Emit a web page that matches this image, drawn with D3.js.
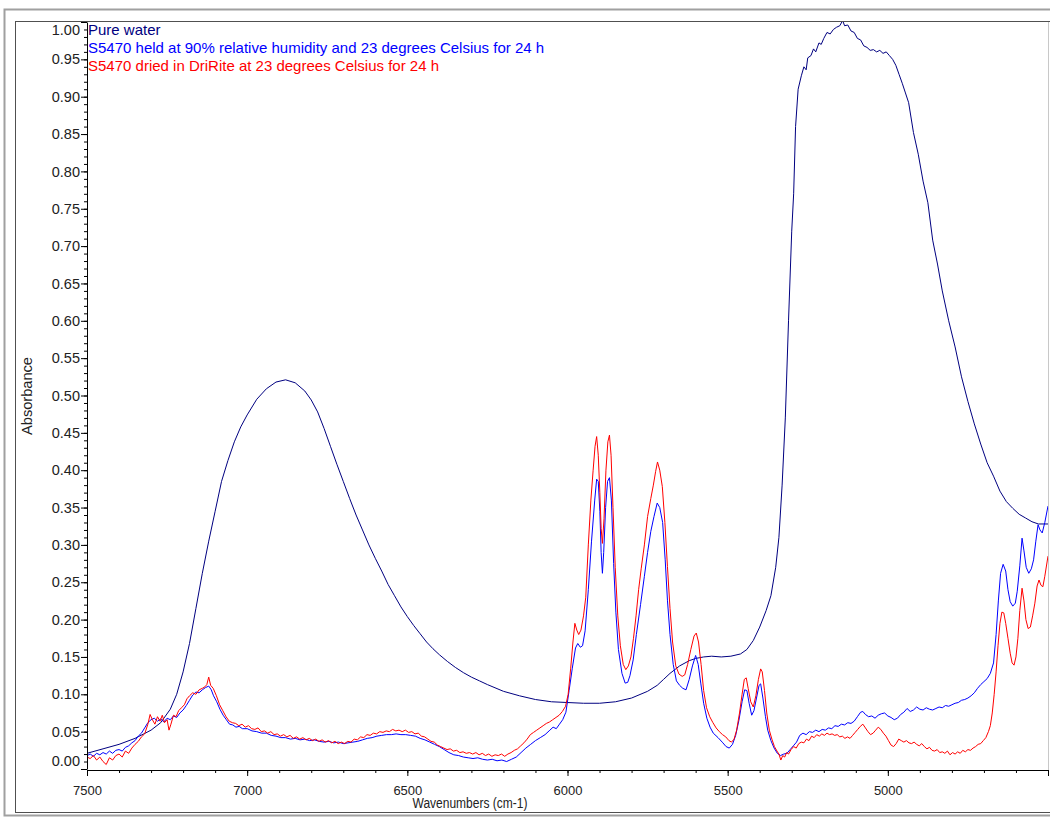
<!DOCTYPE html>
<html>
<head>
<meta charset="utf-8">
<script src="https://cdn.jsdelivr.net/npm/d3@7"></script>
<style>
  body { margin: 0; background: #fff; }
  svg { display: block; font-family: "Liberation Sans", Arial, sans-serif; }
</style>
</head>
<body>
<script>
// series: [wavenumber cm-1, absorbance]
const pureWater = [
  [7500, 0.021], [7450, 0.027], [7400, 0.033], [7350, 0.041], [7300, 0.052], [7270, 0.062],
  [7240, 0.080], [7220, 0.100], [7200, 0.130], [7180, 0.168], [7160, 0.215], [7140, 0.262],
  [7120, 0.305], [7100, 0.345], [7080, 0.385], [7060, 0.413], [7040, 0.438], [7020, 0.458],
  [7000, 0.474], [6970, 0.495], [6940, 0.509], [6910, 0.518], [6880, 0.521], [6850, 0.517],
  [6820, 0.506], [6800, 0.494], [6780, 0.478], [6760, 0.456], [6740, 0.432], [6720, 0.408],
  [6700, 0.385], [6680, 0.362], [6660, 0.340], [6640, 0.320], [6620, 0.300], [6600, 0.282],
  [6580, 0.265], [6560, 0.247], [6540, 0.232], [6520, 0.217], [6500, 0.204], [6480, 0.192],
  [6460, 0.181], [6440, 0.170], [6420, 0.161], [6400, 0.153], [6375, 0.144], [6350, 0.136],
  [6325, 0.129], [6300, 0.123], [6275, 0.118], [6250, 0.113], [6200, 0.104], [6150, 0.098],
  [6100, 0.093], [6050, 0.090], [6000, 0.089], [5950, 0.088], [5900, 0.088], [5850, 0.090],
  [5800, 0.095], [5750, 0.104], [5720, 0.112], [5700, 0.120], [5680, 0.128], [5650, 0.138],
  [5620, 0.145], [5600, 0.148], [5575, 0.150], [5550, 0.151], [5520, 0.150], [5490, 0.151],
  [5460, 0.154], [5440, 0.160], [5420, 0.172], [5400, 0.190], [5380, 0.212], [5365, 0.232],
  [5350, 0.270], [5340, 0.310], [5330, 0.380], [5320, 0.470], [5310, 0.600], [5300, 0.720],
  [5294, 0.770], [5288, 0.860], [5280, 0.910], [5270, 0.928], [5262, 0.940], [5255, 0.936],
  [5250, 0.952], [5240, 0.955], [5232, 0.964], [5225, 0.960], [5215, 0.972], [5208, 0.970],
  [5200, 0.978], [5190, 0.986], [5180, 0.984], [5170, 0.990], [5160, 0.993], [5150, 0.995],
  [5141, 1.002], [5135, 0.995], [5125, 0.996], [5115, 0.988], [5105, 0.986], [5095, 0.978],
  [5085, 0.976], [5075, 0.968], [5065, 0.966], [5055, 0.962], [5045, 0.963], [5035, 0.960],
  [5025, 0.962], [5015, 0.958], [5005, 0.960], [4995, 0.955], [4985, 0.950], [4975, 0.942],
  [4965, 0.930], [4955, 0.918], [4945, 0.905], [4935, 0.892], [4920, 0.852], [4905, 0.823],
  [4890, 0.787], [4875, 0.758], [4860, 0.708], [4845, 0.676], [4830, 0.640], [4810, 0.600],
  [4790, 0.565], [4770, 0.525], [4750, 0.492], [4730, 0.462], [4710, 0.435], [4690, 0.410],
  [4670, 0.392], [4650, 0.372], [4630, 0.358], [4610, 0.349], [4590, 0.341], [4570, 0.336],
  [4550, 0.331], [4530, 0.328], [4510, 0.328], [4500, 0.328]
];

const humid = [
  [7500, 0.018], [7490, 0.020], [7480, 0.017], [7470, 0.021], [7460, 0.019], [7450, 0.022],
  [7440, 0.020], [7430, 0.024], [7420, 0.021], [7410, 0.025], [7400, 0.026], [7390, 0.024],
  [7380, 0.029], [7370, 0.031], [7360, 0.035], [7350, 0.038], [7340, 0.044], [7330, 0.048],
  [7320, 0.055], [7310, 0.062], [7300, 0.066], [7290, 0.068], [7280, 0.064], [7270, 0.067],
  [7260, 0.063], [7250, 0.068], [7240, 0.066], [7230, 0.071], [7220, 0.069], [7210, 0.075],
  [7200, 0.079], [7190, 0.085], [7180, 0.092], [7170, 0.099], [7160, 0.103], [7150, 0.102],
  [7140, 0.106], [7130, 0.109], [7120, 0.111], [7112, 0.106], [7105, 0.098], [7095, 0.090],
  [7085, 0.080], [7075, 0.072], [7065, 0.066], [7055, 0.060], [7045, 0.059], [7035, 0.056],
  [7025, 0.057], [7015, 0.054], [7000, 0.054], [6985, 0.051], [6970, 0.050], [6955, 0.048],
  [6940, 0.048], [6925, 0.045], [6910, 0.044], [6895, 0.042], [6880, 0.042], [6865, 0.040],
  [6850, 0.041], [6835, 0.039], [6820, 0.040], [6805, 0.038], [6790, 0.039], [6775, 0.037],
  [6760, 0.036], [6745, 0.037], [6730, 0.035], [6715, 0.036], [6700, 0.034], [6685, 0.035],
  [6670, 0.036], [6655, 0.037], [6640, 0.039], [6625, 0.041], [6610, 0.042], [6595, 0.044],
  [6580, 0.045], [6565, 0.046], [6550, 0.046], [6535, 0.047], [6520, 0.046], [6505, 0.046],
  [6490, 0.045], [6475, 0.044], [6460, 0.041], [6445, 0.039], [6430, 0.036], [6415, 0.033],
  [6400, 0.030], [6385, 0.026], [6370, 0.022], [6355, 0.019], [6340, 0.018], [6325, 0.016],
  [6310, 0.015], [6295, 0.014], [6280, 0.015], [6265, 0.013], [6250, 0.012], [6235, 0.013],
  [6220, 0.011], [6205, 0.012], [6190, 0.010], [6175, 0.013], [6160, 0.016], [6145, 0.022],
  [6130, 0.028], [6115, 0.033], [6100, 0.038], [6085, 0.042], [6070, 0.046], [6055, 0.052],
  [6045, 0.056], [6035, 0.054], [6025, 0.060], [6015, 0.066], [6005, 0.076], [5995, 0.105],
  [5985, 0.135], [5975, 0.162], [5968, 0.168], [5960, 0.163], [5953, 0.165], [5945, 0.185],
  [5935, 0.240], [5925, 0.305], [5915, 0.360], [5909, 0.388], [5904, 0.385], [5899, 0.345],
  [5895, 0.290], [5891, 0.262], [5887, 0.290], [5881, 0.350], [5875, 0.385], [5869, 0.390],
  [5863, 0.360], [5856, 0.275], [5849, 0.210], [5841, 0.160], [5830, 0.128], [5820, 0.115],
  [5812, 0.116], [5805, 0.125], [5795, 0.146], [5785, 0.180], [5772, 0.220], [5760, 0.258],
  [5750, 0.290], [5740, 0.318], [5730, 0.338], [5720, 0.356], [5712, 0.350], [5703, 0.330],
  [5695, 0.280], [5688, 0.226], [5680, 0.180], [5670, 0.140], [5660, 0.118], [5650, 0.112],
  [5640, 0.108], [5630, 0.106], [5620, 0.120], [5610, 0.138], [5600, 0.152], [5592, 0.140],
  [5584, 0.115], [5575, 0.088], [5565, 0.068], [5555, 0.056], [5545, 0.048], [5530, 0.042],
  [5515, 0.035], [5505, 0.030], [5495, 0.028], [5485, 0.033], [5475, 0.045], [5465, 0.065],
  [5455, 0.090], [5447, 0.106], [5440, 0.105], [5433, 0.088], [5425, 0.072], [5418, 0.078],
  [5410, 0.095], [5402, 0.112], [5397, 0.114], [5390, 0.095], [5382, 0.070], [5375, 0.052],
  [5365, 0.038], [5355, 0.028], [5345, 0.021], [5335, 0.018], [5325, 0.020], [5315, 0.021],
  [5305, 0.026], [5295, 0.031], [5285, 0.036], [5275, 0.045], [5265, 0.048], [5255, 0.046],
  [5245, 0.050], [5235, 0.049], [5225, 0.052], [5215, 0.050], [5205, 0.053], [5195, 0.052],
  [5185, 0.055], [5175, 0.054], [5165, 0.058], [5155, 0.057], [5145, 0.060], [5135, 0.059],
  [5125, 0.062], [5115, 0.061], [5105, 0.064], [5095, 0.070], [5085, 0.076], [5078, 0.077],
  [5070, 0.073], [5060, 0.070], [5050, 0.071], [5040, 0.068], [5030, 0.072], [5020, 0.074],
  [5010, 0.075], [5000, 0.071], [4990, 0.069], [4980, 0.066], [4970, 0.068], [4960, 0.073],
  [4950, 0.076], [4940, 0.081], [4930, 0.077], [4920, 0.079], [4910, 0.083], [4900, 0.080],
  [4890, 0.079], [4880, 0.082], [4870, 0.080], [4860, 0.079], [4850, 0.081], [4840, 0.083],
  [4830, 0.082], [4820, 0.085], [4810, 0.084], [4800, 0.086], [4790, 0.088], [4780, 0.089],
  [4770, 0.092], [4760, 0.093], [4750, 0.095], [4740, 0.098], [4730, 0.102], [4720, 0.108],
  [4710, 0.113], [4700, 0.117], [4690, 0.121], [4680, 0.128], [4670, 0.142], [4662, 0.180],
  [4655, 0.225], [4648, 0.262], [4640, 0.274], [4632, 0.265], [4625, 0.240], [4618, 0.224],
  [4610, 0.218], [4602, 0.222], [4596, 0.238], [4588, 0.272], [4581, 0.309], [4575, 0.292],
  [4568, 0.270], [4560, 0.262], [4552, 0.268], [4545, 0.280], [4538, 0.305], [4531, 0.327],
  [4525, 0.320], [4518, 0.316], [4510, 0.330], [4500, 0.352]
];

const dried = [
  [7500, 0.016], [7490, 0.014], [7480, 0.018], [7470, 0.012], [7460, 0.016], [7450, 0.010],
  [7440, 0.006], [7430, 0.015], [7420, 0.012], [7410, 0.018], [7400, 0.020], [7390, 0.016],
  [7380, 0.024], [7370, 0.021], [7360, 0.028], [7350, 0.033], [7340, 0.037], [7330, 0.043],
  [7320, 0.047], [7310, 0.060], [7303, 0.073], [7296, 0.066], [7288, 0.060], [7280, 0.070],
  [7272, 0.064], [7265, 0.072], [7258, 0.062], [7250, 0.066], [7244, 0.052], [7238, 0.060],
  [7230, 0.072], [7222, 0.070], [7214, 0.078], [7205, 0.082], [7196, 0.086], [7188, 0.094],
  [7180, 0.098], [7170, 0.102], [7160, 0.100], [7150, 0.106], [7140, 0.108], [7132, 0.110],
  [7126, 0.113], [7120, 0.123], [7114, 0.112], [7106, 0.108], [7096, 0.098], [7086, 0.086],
  [7076, 0.078], [7066, 0.070], [7056, 0.064], [7046, 0.062], [7036, 0.061], [7026, 0.058],
  [7016, 0.060], [7006, 0.056], [6996, 0.058], [6986, 0.054], [6976, 0.053], [6966, 0.055],
  [6956, 0.050], [6946, 0.051], [6936, 0.048], [6926, 0.050], [6916, 0.046], [6906, 0.047],
  [6896, 0.044], [6886, 0.046], [6876, 0.043], [6866, 0.045], [6856, 0.041], [6846, 0.043],
  [6836, 0.040], [6826, 0.042], [6816, 0.039], [6806, 0.041], [6796, 0.038], [6786, 0.040],
  [6776, 0.037], [6766, 0.039], [6756, 0.036], [6746, 0.038], [6736, 0.035], [6726, 0.037],
  [6716, 0.034], [6706, 0.036], [6696, 0.034], [6686, 0.037], [6676, 0.036], [6666, 0.040],
  [6656, 0.039], [6646, 0.043], [6636, 0.042], [6626, 0.046], [6616, 0.045], [6606, 0.048],
  [6596, 0.047], [6586, 0.050], [6576, 0.049], [6566, 0.051], [6556, 0.050], [6546, 0.053],
  [6536, 0.051], [6526, 0.052], [6516, 0.050], [6506, 0.052], [6496, 0.049], [6486, 0.050],
  [6476, 0.047], [6466, 0.048], [6456, 0.044], [6446, 0.043], [6436, 0.040], [6426, 0.037],
  [6416, 0.036], [6406, 0.032], [6396, 0.030], [6386, 0.028], [6376, 0.026], [6366, 0.027],
  [6356, 0.024], [6346, 0.025], [6336, 0.022], [6326, 0.023], [6316, 0.021], [6306, 0.022],
  [6296, 0.020], [6286, 0.022], [6276, 0.019], [6266, 0.021], [6256, 0.018], [6246, 0.020],
  [6236, 0.017], [6226, 0.019], [6216, 0.018], [6206, 0.020], [6196, 0.017], [6186, 0.020],
  [6176, 0.022], [6166, 0.025], [6156, 0.027], [6146, 0.031], [6136, 0.035], [6126, 0.040],
  [6116, 0.046], [6106, 0.049], [6096, 0.052], [6086, 0.055], [6076, 0.058], [6066, 0.061],
  [6056, 0.063], [6046, 0.066], [6036, 0.069], [6026, 0.072], [6016, 0.077], [6006, 0.084],
  [5998, 0.100], [5990, 0.135], [5983, 0.170], [5977, 0.195], [5971, 0.186], [5965, 0.180],
  [5958, 0.186], [5950, 0.205], [5943, 0.230], [5935, 0.300], [5927, 0.360], [5920, 0.400],
  [5914, 0.432], [5909, 0.445], [5904, 0.420], [5899, 0.370], [5895, 0.322], [5891, 0.302],
  [5886, 0.335], [5880, 0.400], [5874, 0.438], [5869, 0.447], [5864, 0.420], [5858, 0.350],
  [5851, 0.270], [5843, 0.205], [5835, 0.165], [5826, 0.140], [5818, 0.133], [5810, 0.138],
  [5802, 0.150], [5794, 0.175], [5786, 0.205], [5778, 0.240], [5770, 0.268], [5760, 0.300],
  [5750, 0.338], [5740, 0.362], [5732, 0.380], [5725, 0.398], [5719, 0.411], [5712, 0.400],
  [5704, 0.378], [5696, 0.330], [5688, 0.271], [5680, 0.215], [5672, 0.170], [5662, 0.138],
  [5652, 0.127], [5642, 0.124], [5634, 0.126], [5625, 0.140], [5615, 0.160], [5605, 0.178],
  [5598, 0.182], [5591, 0.170], [5583, 0.140], [5575, 0.105], [5566, 0.082], [5556, 0.070],
  [5546, 0.062], [5536, 0.055], [5526, 0.050], [5516, 0.046], [5506, 0.043], [5496, 0.038],
  [5488, 0.036], [5480, 0.040], [5472, 0.052], [5463, 0.075], [5455, 0.100], [5448, 0.120],
  [5442, 0.122], [5436, 0.108], [5428, 0.090], [5420, 0.083], [5412, 0.098], [5404, 0.120],
  [5397, 0.134], [5392, 0.130], [5385, 0.105], [5378, 0.075], [5370, 0.052], [5362, 0.040],
  [5354, 0.030], [5346, 0.024], [5340, 0.020], [5334, 0.012], [5328, 0.018], [5322, 0.016],
  [5316, 0.022], [5310, 0.020], [5302, 0.026], [5294, 0.030], [5286, 0.028], [5278, 0.034],
  [5270, 0.036], [5262, 0.035], [5254, 0.040], [5246, 0.038], [5238, 0.044], [5230, 0.042],
  [5222, 0.046], [5214, 0.044], [5206, 0.047], [5198, 0.045], [5190, 0.048], [5182, 0.046],
  [5174, 0.047], [5166, 0.045], [5158, 0.046], [5150, 0.043], [5142, 0.044], [5134, 0.041],
  [5126, 0.043], [5118, 0.041], [5110, 0.045], [5102, 0.049], [5094, 0.053], [5086, 0.057],
  [5078, 0.060], [5070, 0.055], [5062, 0.050], [5054, 0.046], [5046, 0.048], [5038, 0.052],
  [5030, 0.056], [5022, 0.053], [5014, 0.048], [5006, 0.044], [4998, 0.038], [4990, 0.032],
  [4982, 0.030], [4974, 0.034], [4966, 0.040], [4958, 0.038], [4950, 0.036], [4942, 0.038],
  [4934, 0.035], [4926, 0.034], [4918, 0.036], [4910, 0.033], [4902, 0.031], [4894, 0.034],
  [4886, 0.030], [4878, 0.027], [4870, 0.029], [4862, 0.025], [4854, 0.024], [4846, 0.026],
  [4838, 0.022], [4830, 0.023], [4822, 0.021], [4814, 0.024], [4806, 0.019], [4798, 0.022],
  [4790, 0.020], [4782, 0.023], [4774, 0.021], [4766, 0.025], [4758, 0.023], [4750, 0.026],
  [4742, 0.025], [4734, 0.028], [4726, 0.030], [4718, 0.033], [4710, 0.034], [4702, 0.038],
  [4694, 0.042], [4686, 0.050], [4680, 0.058], [4674, 0.075], [4668, 0.100], [4662, 0.130],
  [4656, 0.165], [4650, 0.195], [4644, 0.210], [4638, 0.209], [4632, 0.195], [4625, 0.175],
  [4618, 0.155], [4612, 0.142], [4606, 0.139], [4600, 0.150], [4594, 0.175], [4588, 0.212],
  [4581, 0.242], [4575, 0.225], [4569, 0.200], [4562, 0.188], [4555, 0.190], [4548, 0.205],
  [4541, 0.222], [4534, 0.245], [4528, 0.253], [4522, 0.246], [4516, 0.244], [4510, 0.258],
  [4500, 0.285]
];

// legend lines and colours, drawn in this order
const seriesNames = [
  "Pure water",
  "S5470 held at 90% relative humidity and 23 degrees Celsius for 24 h",
  "S5470 dried in DriRite at 23 degrees Celsius for 24 h"
];
const seriesColors = ["#000080", "#0000ff", "#ff0000"];
const seriesData = [pureWater, humid, dried];

// axis ticks
const xMajor = [7500, 7000, 6500, 6000, 5500, 5000, 4500];
const xMinor = d3.range(7500, 4499, -100);
const yMajor = d3.range(0, 1.001, 0.05);
const yMinor = d3.range(0, 1.001, 0.01);

// canvas
const width = 1050;
const height = 817;
const plot = { left: 87, right: 1048, top: 22, bottom: 769 };

const svg = d3
  .select("body")
  .append("svg")
  .attr("width", width)
  .attr("height", height);

svg.append("rect").attr("width", width).attr("height", height).attr("fill", "#fff");

// outer window frames
svg
  .append("rect")
  .attr("x", 4.5)
  .attr("y", 9.5)
  .attr("width", 1100)
  .attr("height", 806)
  .attr("fill", "none")
  .attr("stroke", "#a0a0a0")
  .attr("stroke-width", 2);

svg
  .append("rect")
  .attr("x", 15.5)
  .attr("y", 21.5)
  .attr("width", 1100)
  .attr("height", 791)
  .attr("fill", "none")
  .attr("stroke", "#505050")
  .attr("stroke-width", 1);

// right edge of the plot
svg
  .append("line")
  .attr("x1", plot.right + 0.5)
  .attr("x2", plot.right + 0.5)
  .attr("y1", plot.top)
  .attr("y2", plot.bottom + 1)
  .attr("stroke", "#c8c8c8");

// scales
const xScale = d3.scaleLinear().domain([7500, 4500]).range([plot.left, plot.right]);
const yScale = d3.scaleLinear().domain([0, 1]).range([plot.bottom, plot.top]);

// clip the spectra to the plot
svg
  .append("clipPath")
  .attr("id", "clip")
  .append("rect")
  .attr("x", plot.left)
  .attr("y", plot.top)
  .attr("width", plot.right - plot.left)
  .attr("height", plot.bottom - plot.top + 1);

const line = d3
  .line()
  .x((d) => xScale(d[0]))
  .y((d) => yScale(d[1]));

svg
  .append("g")
  .attr("clip-path", "url(#clip)")
  .selectAll("path")
  .data(seriesData)
  .enter()
  .append("path")
  .attr("d", line)
  .attr("fill", "none")
  .attr("stroke", (d, i) => seriesColors[i])
  .attr("stroke-width", 1)
  .attr("stroke-linejoin", "round");

// x axis: minor ticks, then labelled major ticks
const xAxisY = plot.bottom + 1;

svg
  .append("g")
  .attr("transform", "translate(0," + xAxisY + ")")
  .call(d3.axisBottom(xScale).tickValues(xMinor).tickSize(3).tickFormat(""))
  .call((g) => g.select(".domain").remove());

const xAxisG = svg
  .append("g")
  .attr("class", "x-axis")
  .attr("transform", "translate(0," + xAxisY + ")")
  .call(
    d3
      .axisBottom(xScale)
      .tickValues(xMajor)
      .tickSize(6)
      .tickSizeOuter(0)
      .tickPadding(10)
      .tickFormat((d) => (d === 4500 ? "" : d))
  );

// y axis
svg
  .append("g")
  .attr("transform", "translate(" + plot.left + ",0)")
  .call(d3.axisLeft(yScale).tickValues(yMinor).tickSize(3).tickFormat(""))
  .call((g) => g.select(".domain").remove());

const yAxisG = svg
  .append("g")
  .attr("class", "y-axis")
  .attr("transform", "translate(" + plot.left + ",0)")
  .call(
    d3
      .axisLeft(yScale)
      .tickValues(yMajor)
      .tickSize(6)
      .tickSizeOuter(0)
      .tickPadding(1)
      .tickFormat(d3.format(".2f"))
  );

// end labels are pushed inside the plot, like the original software does
yAxisG
  .selectAll(".tick text")
  .filter((d) => d > 0.999)
  .attr("y", 8);
yAxisG
  .selectAll(".tick text")
  .filter((d) => d < 0.001)
  .attr("y", -8);

svg
  .selectAll(".tick text")
  .style("font-family", '"Liberation Sans", Arial, sans-serif')
  .attr("fill", "#222");
xAxisG.selectAll(".tick text").style("font-size", "13px");
yAxisG.selectAll(".tick text").style("font-size", "14.5px");
svg.selectAll(".domain, .tick line").attr("stroke", "#000");

// axis titles
svg
  .append("text")
  .text("Wavenumbers (cm-1)")
  .attr("x", 470)
  .attr("y", 808)
  .attr("text-anchor", "middle")
  .attr("textLength", 115)
  .attr("lengthAdjust", "spacingAndGlyphs")
  .style("font-size", "14px")
  .attr("fill", "#222");

svg
  .append("text")
  .text("Absorbance")
  .attr("text-anchor", "middle")
  .attr("transform", "translate(32,396) rotate(-90)")
  .attr("textLength", 78)
  .attr("lengthAdjust", "spacingAndGlyphs")
  .style("font-size", "14px")
  .attr("fill", "#222");

// legend text in the top-left corner of the plot
svg
  .selectAll(".legend")
  .data(seriesNames)
  .enter()
  .append("text")
  .attr("class", "legend")
  .attr("x", plot.left + 1)
  .attr("y", (d, i) => 35 + i * 18)
  .style("font-size", "15px")
  .attr("fill", (d, i) => seriesColors[i])
  .text((d) => d);
</script>
</body>
</html>
